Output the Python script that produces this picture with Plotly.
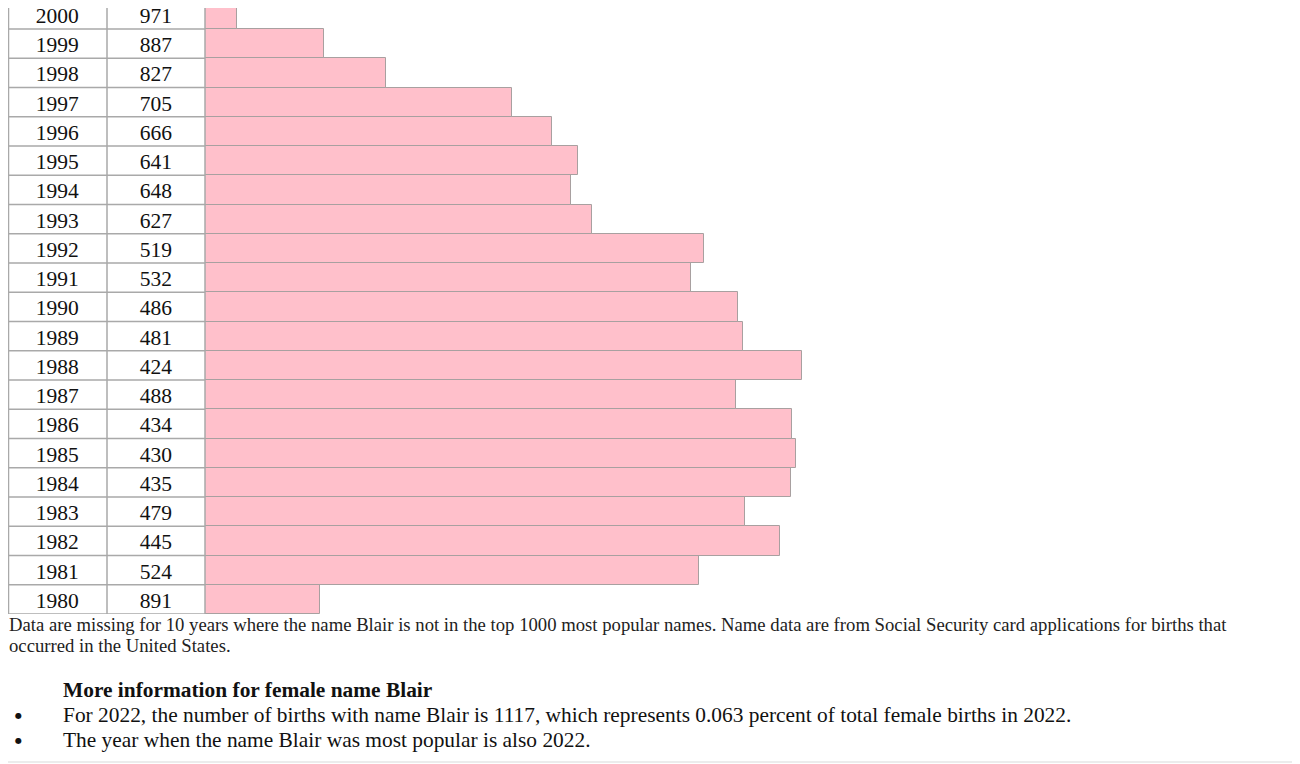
import plotly.graph_objects as go

# popularity rank of the female name Blair, 1980-2000
years = [1980, 1981, 1982, 1983, 1984, 1985, 1986, 1987, 1988, 1989, 1990,
         1991, 1992, 1993, 1994, 1995, 1996, 1997, 1998, 1999, 2000]
ranks = [891, 524, 445, 479, 435, 430, 434, 488, 424, 481, 486,
         532, 519, 627, 648, 641, 666, 705, 827, 887, 971]

note_lines = [
    "Data are missing for 10 years where the name Blair is not in the top 1000 most popular names. "
    "Name data are from Social Security card applications for births that",
    "occurred in the United States.",
]
heading = "More information for female name Blair"
bullets = [
    "For 2022, the number of births with name Blair is 1117, which represents 0.063 percent of total female births in 2022.",
    "The year when the name Blair was most popular is also 2022.",
]

# the page body has an 8px margin, so the figure is a bit smaller than the window
FW, FH = 1292, 756
ROW = 29.25
TABLE_BOTTOM = 614
TEXT_NUDGE = 3  # cell text sits a little below the row centre


def sx(v):
    return (v - 8) / FW


def sy(v):
    return 1 - (v - 8) / FH


FONT = "Liberation Serif, Times New Roman, serif"
GRID = "#a9a9a9"

labels = [str(y) for y in years]
# bar length grows as the rank gets better (rank 1000 -> almost nothing)
bar_len = [1002 - r for r in ranks]
n = len(years)
y_top = -0.5 + (TABLE_BOTTOM - 8) / ROW

fig = go.Figure()

fig.add_trace(go.Bar(
    x=bar_len, y=labels, orientation="h",
    marker=dict(color="#ffc0cb", line=dict(color="#a8a0a0", width=1)),
    hoverinfo="skip",
))

# table text: year and rank columns (own y axis, nudged down to sit like the html cells)
fig.add_trace(go.Scatter(
    x=["year"] * n, y=labels, mode="text",
    text=labels, textfont=dict(family=FONT, size=21.5, color="#111"),
    xaxis="x2", yaxis="y2", hoverinfo="skip", cliponaxis=False,
))
fig.add_trace(go.Scatter(
    x=["rank"] * n, y=labels, mode="text",
    text=[str(r) for r in ranks], textfont=dict(family=FONT, size=21.5, color="#111"),
    xaxis="x2", yaxis="y2", hoverinfo="skip", cliponaxis=False,
))

shapes = []
for i in range(n):
    shapes.append(dict(type="line", xref="paper", yref="y",
                       x0=sx(8), x1=sx(205), y0=i - 0.5, y1=i - 0.5,
                       line=dict(color=GRID, width=1.5)))
for xv in (8.5, 107, 205):
    shapes.append(dict(type="line", xref="paper", yref="y",
                       x0=sx(xv), x1=sx(xv), y0=-0.5, y1=y_top,
                       line=dict(color=GRID, width=1.5)))
# faint page border
shapes.append(dict(type="line", xref="paper", yref="paper", x0=sx(1298), x1=sx(1298),
                   y0=0, y1=1, line=dict(color="#ececec", width=2)))
shapes.append(dict(type="line", xref="paper", yref="paper", x0=0, x1=sx(1298),
                   y0=sy(762), y1=sy(762), line=dict(color="#ececec", width=2)))

annotations = []
for k, line in enumerate(note_lines):
    annotations.append(dict(text=line, xref="paper", yref="paper", x=sx(7), y=sy(624 + 21 * k),
                            xanchor="left", yanchor="middle", showarrow=False,
                            font=dict(family=FONT, size=18.7, color="#222")))
annotations.append(dict(text="<b>" + heading + "</b>", xref="paper", yref="paper",
                        x=sx(61), y=sy(690), xanchor="left", yanchor="middle", showarrow=False,
                        font=dict(family=FONT, size=21.4, color="#111")))
for k, b in enumerate(bullets):
    yy = sy(715 + 25 * k)
    annotations.append(dict(text="●", xref="paper", yref="paper", x=sx(18.5), y=yy,
                            xanchor="center", yanchor="middle", showarrow=False,
                            font=dict(family="DejaVu Sans", size=8, color="#111")))
    annotations.append(dict(text=b, xref="paper", yref="paper", x=sx(61), y=yy,
                            xanchor="left", yanchor="middle", showarrow=False,
                            font=dict(family=FONT, size=21.4, color="#111")))

fig.update_layout(
    width=FW, height=FH,
    margin=dict(l=0, r=0, t=0, b=0),
    paper_bgcolor="white", plot_bgcolor="white",
    showlegend=False, bargap=0,
    xaxis=dict(domain=[sx(205), 1], range=[0, 1095 / 1.033], visible=False, fixedrange=True),
    xaxis2=dict(domain=[sx(8), sx(205)], range=[-0.5, 1.5], visible=False,
                categoryorder="array", categoryarray=["year", "rank"], anchor="y2"),
    yaxis=dict(domain=[sy(TABLE_BOTTOM), 1], range=[-0.5, y_top], visible=False,
               categoryorder="array", categoryarray=labels),
    yaxis2=dict(domain=[sy(TABLE_BOTTOM + TEXT_NUDGE), sy(8 + TEXT_NUDGE)], range=[-0.5, y_top],
                visible=False, categoryorder="array", categoryarray=labels, anchor="x2"),
    shapes=shapes, annotations=annotations,
)

fig.write_html("out.html")
